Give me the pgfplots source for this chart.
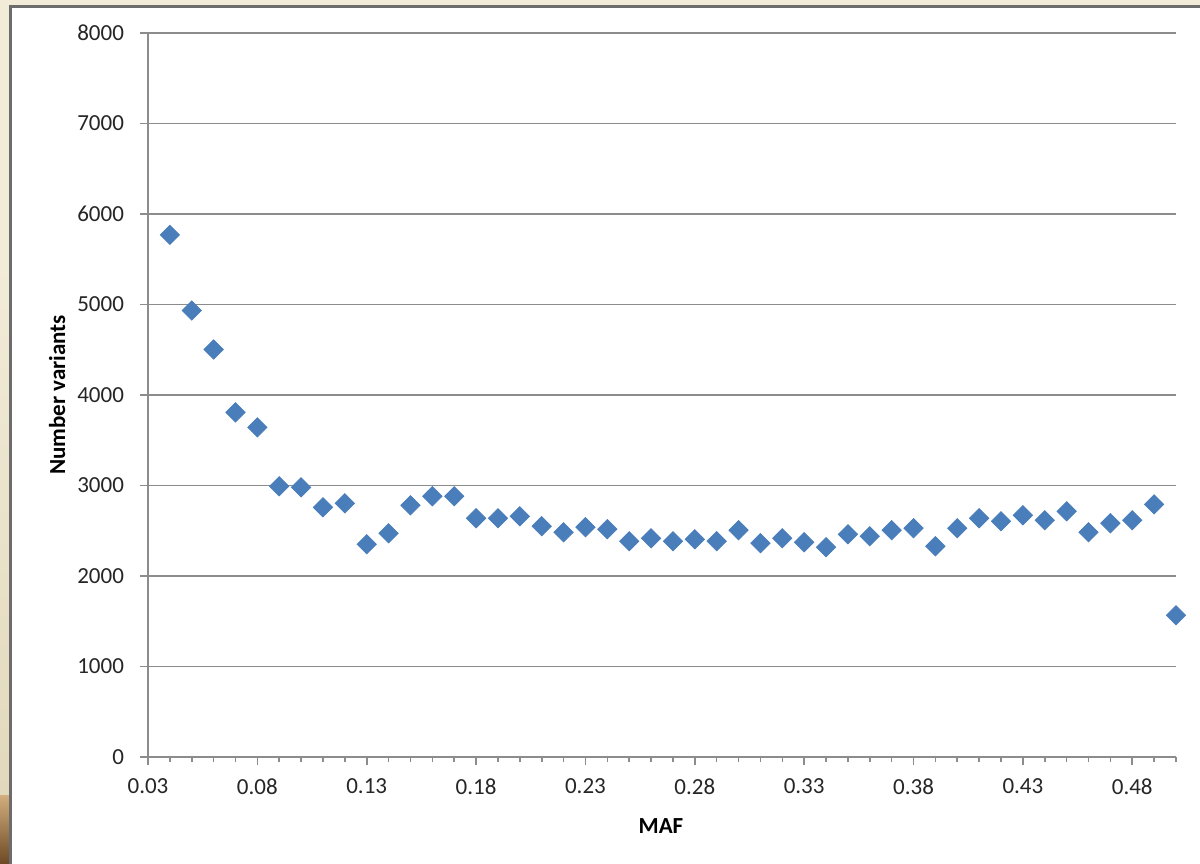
\documentclass[border=0pt]{standalone}
\usepackage{fontspec}
\setmainfont{Carlito}
\usepackage{pgfplots}
\pgfplotsset{compat=1.18}
\definecolor{bg}{HTML}{F2EBD8}
\definecolor{bgdark}{HTML}{E2D9BC}
\definecolor{gridc}{HTML}{8C8C8C}
\definecolor{mk}{HTML}{4A7EBB}
\definecolor{txt}{HTML}{262626}
\definecolor{tan}{HTML}{D2AE7E}
\definecolor{brownd}{HTML}{6E4A26}
\begin{document}
\begin{tikzpicture}[x=1pt,y=1pt]
\useasboundingbox (0,0) rectangle (600,431.5);
\fill[bg] (0,0) rectangle (600,431.5);
\shade[top color=bg, bottom color=bgdark] (0,34) rectangle (5.3,300);
\shade[top color=tan, bottom color=brownd] (0,0) rectangle (5.3,34);
\filldraw[fill=white, draw=gray!85!black, line width=1.2pt] (5.3,-5) rectangle (610,428.3);
\begin{axis}[
  at={(74pt,53pt)}, anchor=south west,
  scale only axis, width=514pt, height=362pt,
  xmin=0.03, xmax=0.5, ymin=0, ymax=8000,
  axis lines*=left, axis line style={gridc, -, line width=0.8pt},
  ymajorgrids, grid style={gridc, line width=0.8pt},
  tick style={gridc, line width=0.8pt}, tick align=outside,
  major tick length=4pt, minor tick length=2.6pt,
  ytick={0,1000,...,8000},
  xtick={0.03,0.08,0.13,0.18,0.23,0.28,0.33,0.38,0.43,0.48},
  xticklabels={0.03,0.08,0.13,0.18,0.23,0.28,0.33,0.38,0.43,0.48},
  minor xtick={0.04,0.05,0.06,0.07,0.09,0.10,0.11,0.12,0.14,0.15,0.16,0.17,0.19,0.20,0.21,0.22,0.24,0.25,0.26,0.27,0.29,0.30,0.31,0.32,0.34,0.35,0.36,0.37,0.39,0.40,0.41,0.42,0.44,0.45,0.46,0.47,0.49,0.50},
  scaled y ticks=false,
  /pgf/number format/1000 sep=,
  /pgf/number format/assume math mode=true,
  ticklabel style={font=\fontsize{11.5}{13}\selectfont, text=txt},
  xticklabel style={yshift=-3.5pt},
  yticklabel style={xshift=-4.5pt},
  xlabel={MAF}, ylabel={Number variants},
  label style={font=\bfseries\fontsize{11.5}{13}\selectfont, text=black},
  xlabel style={at={(axis description cs:0.499,-0.0953)}, anchor=center},
  ylabel style={at={(axis description cs:-0.0885,0.5)}, anchor=center},
  clip=false,
]
\addplot[only marks, mark=square*, mark size=3.4pt, mark options={rotate=45, fill=mk, draw=mk}] coordinates {
(0.04,5770) (0.05,4934) (0.06,4503) (0.07,3808) (0.08,3642)
(0.09,2991) (0.10,2980) (0.11,2759) (0.12,2803) (0.13,2351)
(0.14,2472) (0.15,2781) (0.16,2881) (0.17,2881) (0.18,2638)
(0.19,2638) (0.20,2660) (0.21,2550) (0.22,2483) (0.23,2539)
(0.24,2517) (0.25,2384) (0.26,2417) (0.27,2384) (0.28,2406)
(0.29,2384) (0.30,2506) (0.31,2362) (0.32,2417) (0.33,2373)
(0.34,2318) (0.35,2461) (0.36,2439) (0.37,2506) (0.38,2528)
(0.39,2329) (0.40,2528) (0.41,2638) (0.42,2605) (0.43,2671)
(0.44,2616) (0.45,2715) (0.46,2483) (0.47,2583) (0.48,2616)
(0.49,2792) (0.50,1567)
};
\end{axis}
\end{tikzpicture}
\end{document}
